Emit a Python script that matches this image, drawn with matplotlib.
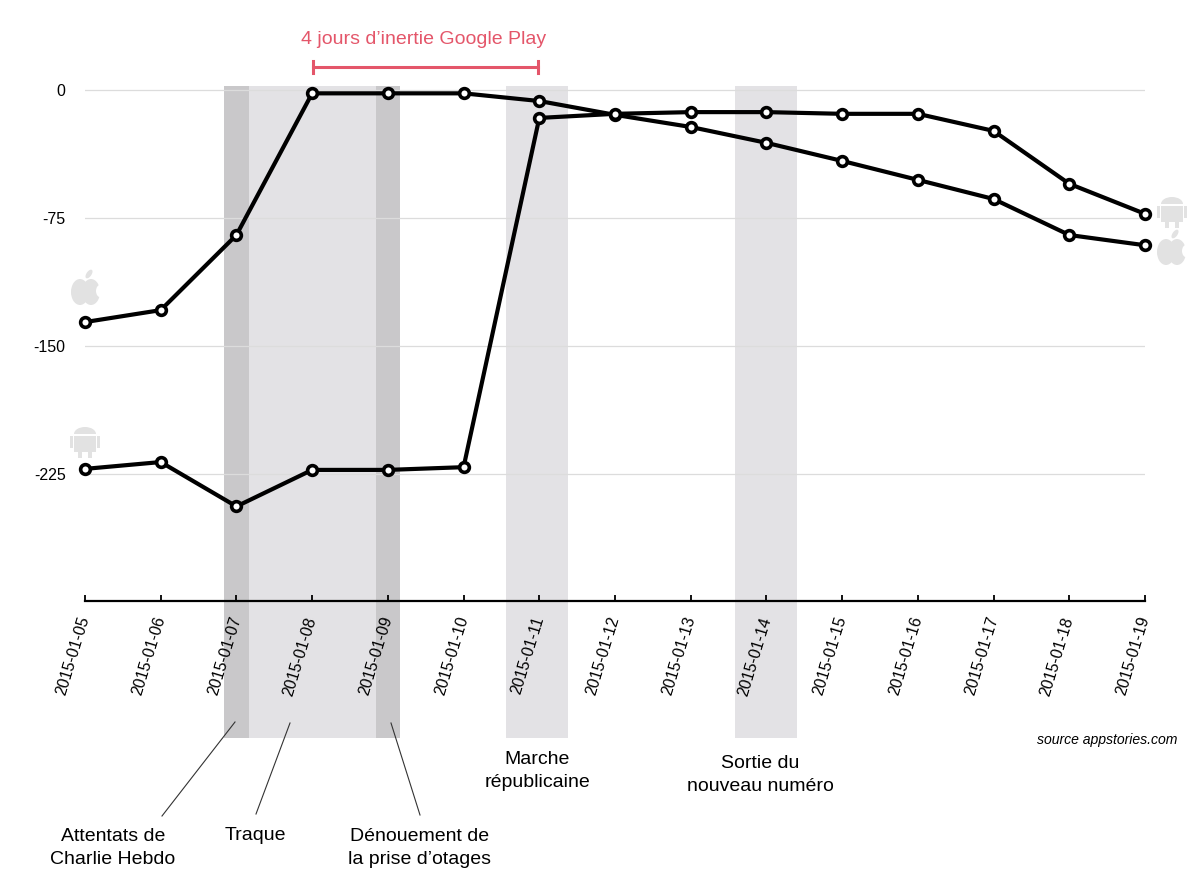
import matplotlib
matplotlib.use('Agg')
import matplotlib.pyplot as plt
import matplotlib.dates as mdates
import numpy as np
from matplotlib.patches import Ellipse, Rectangle
from matplotlib.transforms import ScaledTranslation, blended_transform_factory

plt.rcParams['font.family'] = ['Liberation Sans', 'DejaVu Sans']

dates = ['2015-01-05', '2015-01-06', '2015-01-07', '2015-01-08', '2015-01-09',
         '2015-01-10', '2015-01-11', '2015-01-12', '2015-01-13', '2015-01-14',
         '2015-01-15', '2015-01-16', '2015-01-17', '2015-01-18', '2015-01-19']
apple = [-136, -129, -85, -2, -2, -2, -6.5, -14.6, -21.7, -31, -41.6, -52.7, -63.9, -85, -91]
android = [-222, -218, -244, -222.6, -222.6, -221, -16.4, -14, -13, -13, -14, -14, -24, -55, -72.6]
yticks = [0, -75, -150, -225]

# shaded periods, in dates
bands = [('2015-01-06T20:10', '2015-01-07T04:00', '#c9c8ca'),
         ('2015-01-07T04:00', '2015-01-08T20:20', '#e3e2e5'),
         ('2015-01-08T20:20', '2015-01-09T04:00', '#c9c8ca'),
         ('2015-01-10T13:30', '2015-01-11T09:10', '#e3e2e5'),
         ('2015-01-13T14:00', '2015-01-14T09:40', '#e3e2e5')]

x = mdates.date2num(np.array(dates, dtype='datetime64[D]'))

fig = plt.figure(figsize=(12, 8.8), dpi=100)
ax = fig.add_axes([85 / 1200, 1 - 601 / 880, 1060 / 1200, 515 / 880])
ax.set_xlim(x[0], x[-1])
ax.set_ylim(-299.4, 2.3)
ax.patch.set_alpha(0)

trans = blended_transform_factory(ax.transData, fig.transFigure)
for start, end, col in bands:
    s = mdates.date2num(np.datetime64(start))
    e = mdates.date2num(np.datetime64(end))
    fig.add_artist(Rectangle((s, 1 - 738 / 880), e - s, 652 / 880, transform=trans,
                             facecolor=col, edgecolor='none', zorder=-5))

ax.set_yticks(yticks)
ax.set_yticklabels(['0', '-75', '-150', '-225'], fontsize=11.5)
ax.set_xticks(x)
ax.set_xticklabels(dates, rotation=73, ha='center', va='top', fontsize=11.5)
ax.tick_params(axis='y', length=0, pad=14)
ax.tick_params(axis='x', direction='in', length=4, width=1.3, color='black', pad=10)
shift = ScaledTranslation(-12 / 100, 0, fig.dpi_scale_trans)
for lab in ax.get_xticklabels():
    lab.set_transform(lab.get_transform() + shift)
ax.grid(axis='y', color='#dcdcdc', linewidth=0.9)
ax.set_axisbelow(True)
for s in ['top', 'left', 'right']:
    ax.spines[s].set_visible(False)
ax.spines['bottom'].set_linewidth(1.6)

for series in [apple, android]:
    ax.plot(x, series, color='black', linewidth=3, marker='o', markersize=7,
            markerfacecolor='white', markeredgecolor='black', markeredgewidth=2.6,
            clip_on=False, zorder=5)

# overlay in pixel coordinates for notes and icons
ov = fig.add_axes([0, 0, 1, 1])
ov.set_xlim(0, 1200)
ov.set_ylim(880, 0)
ov.axis('off')


def apple_icon(cx, cy):
    col = '#e2e2e2'
    ov.add_patch(Ellipse((cx - 6, cy + 2), 18, 26, color=col, lw=0))
    ov.add_patch(Ellipse((cx + 5, cy + 2), 18, 26, color=col, lw=0))
    ov.add_patch(Ellipse((cx + 15, cy + 1), 10, 13, color='white', lw=0))
    ov.add_patch(Ellipse((cx + 3, cy - 16), 5, 10, angle=35, color=col, lw=0))


def android_icon(cx, cy):
    col = '#e2e2e2'
    ov.add_patch(Ellipse((cx, cy - 5), 22, 14, color=col, lw=0))
    ov.add_patch(Rectangle((cx - 12, cy - 5), 24, 2, color='white', lw=0))
    ov.add_patch(Rectangle((cx - 11, cy - 3), 22, 16, color=col, lw=0))
    ov.add_patch(Rectangle((cx - 15, cy - 3), 3, 12, color=col, lw=0))
    ov.add_patch(Rectangle((cx + 12, cy - 3), 3, 12, color=col, lw=0))
    ov.add_patch(Rectangle((cx - 7, cy + 13), 4, 6, color=col, lw=0))
    ov.add_patch(Rectangle((cx + 3, cy + 13), 4, 6, color=col, lw=0))


apple_icon(86, 290)
android_icon(85, 439)
android_icon(1172, 209)
apple_icon(1172, 250)

red = '#e4566a'
ov.text(424, 39, '4 jours d\u2019inertie Google Play', color=red, fontsize=14, ha='center', va='center')
ov.plot([313, 538], [67, 67], color=red, lw=2.2)
ov.plot([313, 313], [61, 73], color=red, lw=2.2)
ov.plot([538, 538], [61, 73], color=red, lw=2.2)

notes = [(113, 848, 'Attentats de\nCharlie Hebdo'), (255, 836, 'Traque'),
         (420, 848, 'D\u00e9nouement de\nla prise d\u2019otages'),
         (537, 771, 'Marche\nr\u00e9publicaine'), (760, 775, 'Sortie du\nnouveau num\u00e9ro')]
for nx, ny, txt in notes:
    ov.text(nx, ny, txt, fontsize=14, ha='center', va='center', linespacing=1.45)

ov.plot([235, 162], [722, 816], color='#333333', lw=0.8)
ov.plot([290, 256], [723, 814], color='#333333', lw=0.8)
ov.plot([391, 420], [723, 815], color='#333333', lw=0.8)

ov.text(1177, 740, 'source appstories.com', fontsize=10.1, style='italic', ha='right', va='center')

fig.savefig('out.png', dpi=100)
